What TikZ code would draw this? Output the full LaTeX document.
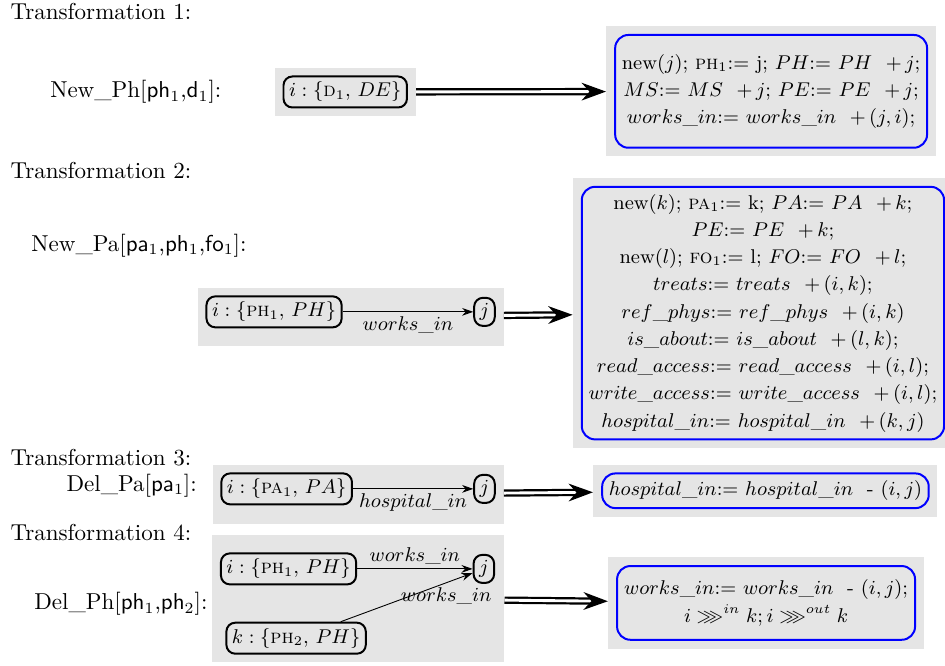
\documentclass[tikz,border=0pt]{standalone}
\usepackage{amssymb}
\usetikzlibrary{arrows.meta,fit,backgrounds}

\begin{document}
\begin{tikzpicture}[
    obj/.style={draw,rounded corners=4pt,line width=0.9pt,font=\small,inner sep=2.5pt},
    rule/.style={draw=blue,rounded corners=6pt,line width=0.9pt,align=center,inner xsep=3pt,
        font={\small\setlength\baselineskip{12.3pt}}},
    shade/.style={fill=black!10,inner sep=3.5pt},
    link/.style={-{Stealth[length=5pt,width=3.5pt]}},
    tag/.style={font=\small,inner sep=2pt},
    imply/.style={double,double distance=1.3pt,line width=1pt,-{Stealth[length=11pt,width=8pt]}},
    lbl/.style={inner sep=0pt,font=\fontsize{10.4}{12.5}\selectfont}
]
    \useasboundingbox (0,0) rectangle (15,-10.571);

    % Titres
    \foreach \n/\y in {1/-0.18,2/-2.70,3/-7.27,4/-8.46} {
        \node[lbl,anchor=west] (t\n) at (0.16,\y) {Transformation \n:};
    }

    % Noms des transformations
    \node[lbl,anchor=east] (n1) at (3.52,-1.46) {New\_Ph[\textsf{ph}$_1$,\textsf{d}$_1$]:};
    \node[lbl,anchor=east] (n2) at (3.92,-3.90) {New\_Pa[\textsf{pa}$_1$,\textsf{ph}$_1$,\textsf{fo}$_1$]:};
    \node[lbl,anchor=east] (n3) at (3.13,-7.71) {Del\_Pa[\textsf{pa}$_1$]:};
    \node[lbl,anchor=east] (n4) at (3.30,-9.59) {Del\_Ph[\textsf{ph}$_1$,\textsf{ph}$_2$]:};

    % Transformation 1
    \node[obj] (i1) at (5.48,-1.46) {$i:\{$\textsc{d}$_1$, $DE\}$};
    \node[rule,minimum width=4.89cm,minimum height=1.79cm] (r1) at (12.24,-1.45) {
        new($j$); \textsc{ph}$_1$:= j; $PH$:= $PH$ \ $+\,j$;\\
        $MS$:= $MS$ \ $+\,j$; $PE$:= $PE$ \ $+\,j$;\\
        $works\_in$:= $works\_in$ \ $+\,(j,i)$;};

    % Transformation 2
    \node[obj] (i2) at (4.35,-4.95) {$i:\{$\textsc{ph}$_1$, $PH\}$};
    \node[obj] (j2) at (7.69,-4.95) {$j$};
    \draw[link] (i2) -- node[tag,below] (l2) {$works\_in$} (j2);
    \node[rule,minimum width=5.75cm,minimum height=3.97cm] (r2) at (12.11,-4.97) {
        new($k$); \textsc{pa}$_1$:= k; $PA$:= $PA$ \ $+\,k$;\\
        $PE$:= $PE$ \ $+\,k$;\\
        new($l$); \textsc{fo}$_1$:= l; $FO$:= $FO$ \ $+\,l$;\\
        $treats$:= $treats$ \ $+\,(i,k)$;\\
        $ref\_phys$:= $ref\_phys$ \ $+\,(i,k)$\\
        $is\_about$:= $is\_about$ \ $+\,(l,k)$;\\
        $read\_access$:= $read\_access$ \ $+\,(i,l)$;\\
        $write\_access$:= $write\_access$ \ $+\,(i,l)$;\\
        $hospital\_in$:= $hospital\_in$ \ $+\,(k,j)$};

    % Transformation 3
    \node[obj] (i3) at (4.55,-7.76) {$i:\{$\textsc{pa}$_1$, $PA\}$};
    \node[obj] (j3) at (7.69,-7.76) {$j$};
    \draw[link] (i3) -- node[tag,below] (l3) {$hospital\_in$} (j3);
    \node[rule,minimum width=5.03cm,minimum height=0.46cm] (r3) at (12.15,-7.79) {
        $hospital\_in$:= $hospital\_in$ \ - $(i,j)$};

    % Transformation 4
    \node[obj] (i4) at (4.58,-9.03) {$i:\{$\textsc{ph}$_1$, $PH\}$};
    \node[obj] (j4) at (7.68,-9.03) {$j$};
    \node[obj] (k4) at (4.70,-10.13) {$k:\{$\textsc{ph}$_2$, $PH\}$};
    \draw[link] (i4) -- node[tag,above] (l4a) {$works\_in$} (j4);
    \draw[link] (k4) -- node[tag,below,pos=0.8] (l4b) {$works\_in$} (j4);
    \node[rule,minimum width=4.73cm,minimum height=1.17cm] (r4) at (12.16,-9.57) {
        $works\_in$:= $works\_in$ \ - $(i,j)$;\\
        $i \ggg^{in} k; i \ggg^{out} k$};

    % Fonds gris
    \begin{scope}[on background layer]
        \node[shade,fit=(i1)] (g1) {};
        \node[shade,fit=(r1)] (h1) {};
        \node[shade,fit=(i2)(j2)(l2)] (g2) {};
        \node[shade,fit=(r2)] (h2) {};
        \node[shade,fit=(i3)(j3)(l3)] (g3) {};
        \node[shade,fit=(r3)] (h3) {};
        \node[shade,fit=(i4)(j4)(k4)(l4a)(l4b)] (g4) {};
        \node[shade,fit=(r4)] (h4) {};
    \end{scope}

    % Fleches doubles
    \foreach \n in {1,2,3,4} {
        \draw[imply] (g\n) -- (h\n);
    }
\end{tikzpicture}
\end{document}
